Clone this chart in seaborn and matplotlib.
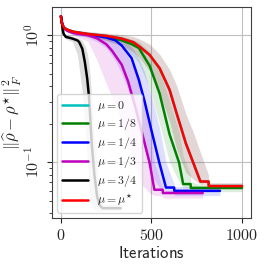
import numpy as np
import matplotlib
matplotlib.use("Agg")
import matplotlib.pyplot as plt
import seaborn as sns
from matplotlib.ticker import NullFormatter

# values (error vs iterations, log y)
t_red = [0, 5, 10, 20, 40, 70, 150, 250, 335, 400, 435, 490, 545, 600, 640, 690, 730, 770, 790, 815, 816, 1000]
y_red = [1.41, 1.26, 1.19, 1.135, 1.10, 1.064, 1.023, 0.989, 0.942, 0.881, 0.813, 0.700, 0.550, 0.372, 0.240,
         0.141, 0.100, 0.0708, 0.0708, 0.0708, 0.0652, 0.0652]
hi_red = [1.46, 1.30, 1.23, 1.175, 1.135, 1.10, 1.07, 1.04, 1.01, 0.977, 0.933, 0.851, 0.708, 0.537, 0.398,
          0.240, 0.174, 0.120, 0.100, 0.0794, 0.0692, 0.0692]
lo_red = [1.36, 1.22, 1.15, 1.10, 1.06, 1.03, 0.977, 0.912, 0.832, 0.741, 0.661, 0.525, 0.355, 0.209, 0.126,
          0.0832, 0.0741, 0.0676, 0.0676, 0.0676, 0.0617, 0.0617]

# mu = 0 sits right under the mu* curve
t_cyan = [0, 5, 10, 20, 40, 70, 150, 250, 335, 400, 435, 490, 545, 600, 640, 690, 730, 770, 790, 815, 816, 1000]
y_cyan = [1.41, 1.26, 1.19, 1.135, 1.10, 1.064, 1.023, 0.989, 0.942, 0.881, 0.813, 0.700, 0.550, 0.372, 0.240,
          0.141, 0.100, 0.0708, 0.0708, 0.0708, 0.0652, 0.0652]
hi_cyan = [1.46, 1.30, 1.23, 1.175, 1.135, 1.10, 1.07, 1.04, 1.01, 0.977, 0.933, 0.851, 0.708, 0.537, 0.398,
           0.240, 0.174, 0.120, 0.100, 0.0794, 0.0692, 0.0692]
lo_cyan = [1.36, 1.22, 1.15, 1.10, 1.06, 1.03, 0.977, 0.912, 0.832, 0.741, 0.661, 0.525, 0.355, 0.209, 0.126,
           0.0832, 0.0741, 0.0676, 0.0676, 0.0676, 0.0617, 0.0617]

t_green = [0, 5, 10, 20, 40, 70, 150, 250, 335, 390, 430, 490, 545, 600, 652, 675, 716, 717, 760, 1000]
y_green = [1.41, 1.26, 1.19, 1.13, 1.09, 1.06, 1.016, 0.973, 0.912, 0.851, 0.794, 0.575, 0.347, 0.166, 0.100,
           0.0676, 0.0676, 0.0631, 0.0631, 0.0631]
hi_green = [1.46, 1.30, 1.23, 1.175, 1.13, 1.10, 1.06, 1.023, 0.977, 0.933, 0.891, 0.741, 0.525, 0.302, 0.174,
            0.112, 0.0794, 0.0708, 0.0676, 0.0676]
lo_green = [1.36, 1.22, 1.15, 1.09, 1.05, 1.023, 0.973, 0.912, 0.813, 0.708, 0.603, 0.380, 0.200, 0.100, 0.0708,
            0.0631, 0.0631, 0.0589, 0.0589, 0.0589]

t_blue = [0, 5, 10, 20, 40, 70, 150, 200, 250, 300, 335, 390, 430, 462, 500, 543, 580, 625, 626, 878]
y_blue = [1.41, 1.26, 1.19, 1.13, 1.086, 1.052, 1.009, 0.986, 0.959, 0.912, 0.832, 0.661, 0.447, 0.302, 0.178,
          0.100, 0.0635, 0.0635, 0.0598, 0.0598]
hi_blue = [1.46, 1.30, 1.23, 1.17, 1.12, 1.09, 1.05, 1.03, 1.0, 0.966, 0.923, 0.813, 0.661, 0.513, 0.331,
           0.191, 0.100, 0.0676, 0.0646, 0.0646]
lo_blue = [1.36, 1.22, 1.15, 1.09, 1.05, 1.01, 0.955, 0.891, 0.794, 0.631, 0.501, 0.316, 0.191, 0.126, 0.0794,
           0.0631, 0.0589, 0.0589, 0.0550, 0.0550]

t_mag = [0, 5, 10, 20, 40, 70, 150, 200, 250, 281, 335, 370, 408, 450, 489, 516, 562, 563, 783]
y_mag = [1.41, 1.26, 1.19, 1.12, 1.08, 1.04, 1.0, 0.944, 0.851, 0.759, 0.589, 0.437, 0.282, 0.166, 0.100,
         0.0610, 0.0610, 0.0575, 0.0575]
hi_mag = [1.46, 1.30, 1.23, 1.16, 1.12, 1.08, 1.05, 1.01, 0.955, 0.902, 0.794, 0.676, 0.525, 0.355, 0.200,
          0.100, 0.0631, 0.0603, 0.0603]
lo_mag = [1.36, 1.22, 1.15, 1.08, 1.035, 1.0, 0.891, 0.631, 0.417, 0.331, 0.209, 0.141, 0.0955, 0.0661, 0.0575,
          0.0550, 0.0550, 0.0525, 0.0525]

t_black = [0, 4, 10, 15, 27, 63, 90, 100, 118, 132, 145, 154, 160, 170, 185, 200, 215, 230, 330]
y_black = [1.41, 1.31, 1.10, 1.023, 0.971, 0.942, 0.912, 0.887, 0.785, 0.617, 0.457, 0.339, 0.251, 0.141,
           0.0794, 0.0537, 0.0457, 0.0437, 0.0437]
hi_black = [1.46, 1.36, 1.15, 1.07, 1.01, 0.977, 0.955, 0.944, 0.912, 0.832, 0.724, 0.603, 0.501, 0.316,
            0.158, 0.0891, 0.0562, 0.0468, 0.0468]
lo_black = [1.36, 1.26, 1.05, 0.977, 0.933, 0.891, 0.708, 0.562, 0.355, 0.200, 0.112, 0.0708, 0.0562, 0.0468,
            0.0427, 0.0417, 0.0417, 0.0417, 0.0417]

labels = [r"$\mu = 0$", r"$\mu = 1/8$", r"$\mu = 1/4$", r"$\mu = 1/3$", r"$\mu = 3/4$", r"$\mu = \mu^{\star}$"]
colors = ["c", "g", "b", "m", "k", "r"]
xticks = [0, 500, 1000]
xticklabels = [r"$0$", r"$500$", r"$1000$"]
yticks = [1.0, 0.1]
yticklabels = [r"$10^{0}$", r"$10^{-1}$"]

series = [
    (t_cyan, y_cyan, lo_cyan, hi_cyan),
    (t_green, y_green, lo_green, hi_green),
    (t_blue, y_blue, lo_blue, hi_blue),
    (t_mag, y_mag, lo_mag, hi_mag),
    (t_black, y_black, lo_black, hi_black),
    (t_red, y_red, lo_red, hi_red),
]

sns.set_style("ticks")
plt.rcParams["mathtext.fontset"] = "cm"

fig, ax = plt.subplots(figsize=(2.66, 2.66), dpi=100)
fig.subplots_adjust(left=0.195, right=0.944, bottom=0.180, top=0.974)
ax.set_yscale("log")

# shaded spread first, lines on top
for (t, y, lo, hi), c in zip(series, colors):
    ax.fill_between(t, lo, hi, color=c, alpha=0.13, lw=0)
for (t, y, lo, hi), c, lab in zip(series, colors, labels):
    sns.lineplot(x=t, y=y, color=c, lw=1.8, label=lab, ax=ax)

ax.set_xlim(-50, 1050)
ax.set_ylim(0.0365, 1.67)
ax.set_xticks(xticks)
ax.set_xticklabels(xticklabels, fontsize=11.5)
ax.set_yticks(yticks)
ax.set_yticklabels(yticklabels, fontsize=11.5, rotation=90, va="center")
ax.yaxis.set_minor_formatter(NullFormatter())
ax.grid(True, which="major", color="0.75", lw=0.8)
for s in ax.spines.values():
    s.set_color("0.25")

ax.set_xlabel(r"$\mathsf{Iterations}$", fontsize=12, labelpad=1)
ax.set_ylabel(r"$\|\widehat{\rho} - \rho^{\star}\|_F^2$", fontsize=12)
ax.yaxis.set_label_coords(-0.14, 0.5)

ax.legend(loc="lower left", fontsize=8.5, handlelength=2.2, handletextpad=0.8, framealpha=0.8,
          edgecolor="0.8", borderaxespad=0.45, labelspacing=0.25)

plt.savefig("out.png", dpi=100)
